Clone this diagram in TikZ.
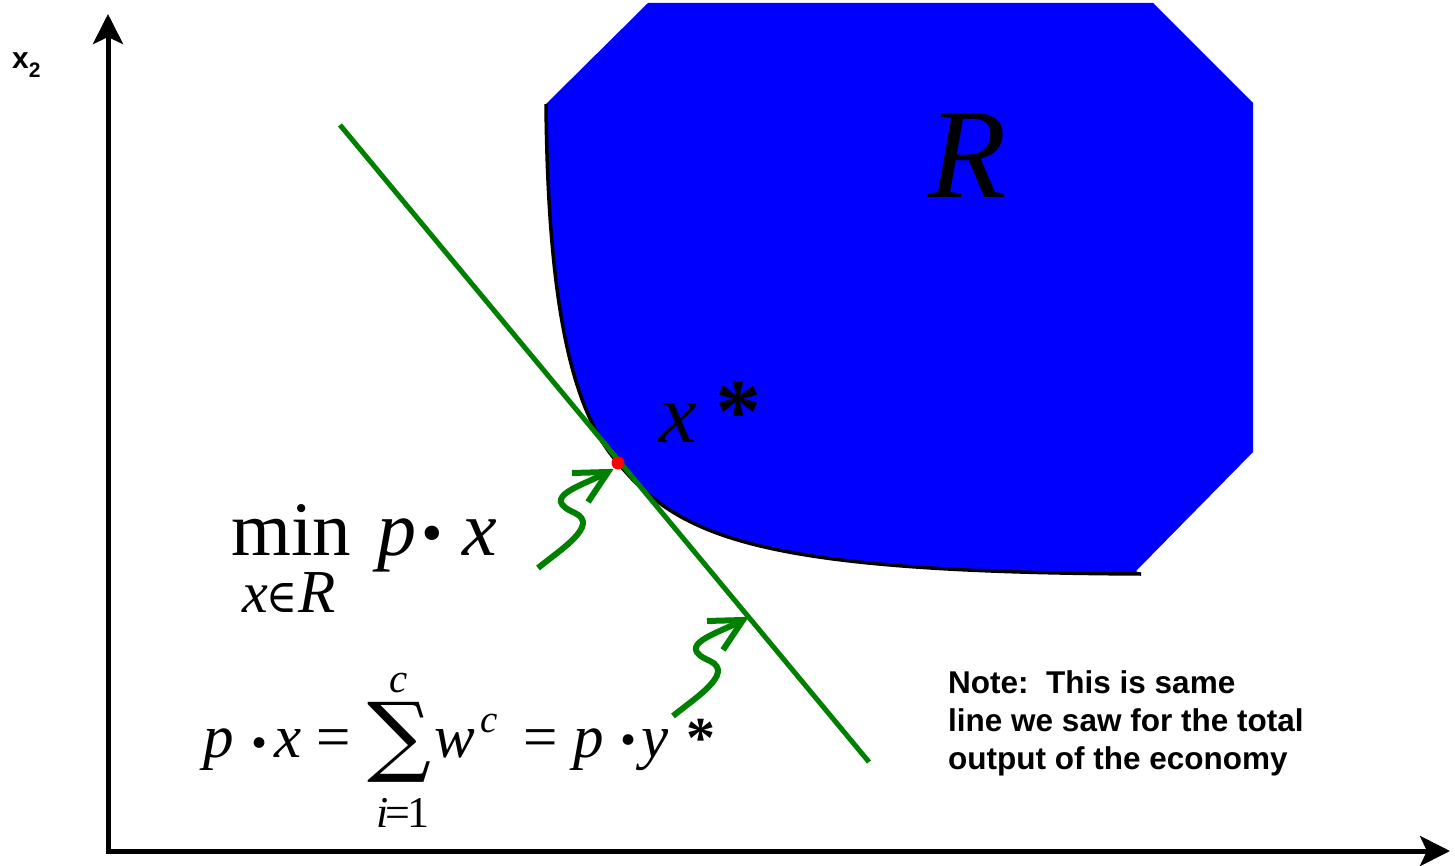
\documentclass[tikz,border=0pt]{standalone}
\usepackage{fontspec}
\setmainfont{Liberation Serif}
\newfontfamily\arialf{Liberation Sans}
\newfontfamily\dejas{DejaVu Serif}
\usetikzlibrary{arrows.meta}
\newcommand{\myfs}[1]{\fontsize{#1}{#1}\selectfont}
\newcommand{\mydot}[1]{\makebox[0pt]{\myfs{#1}\dejas ⋅}}
\definecolor{ggreen}{RGB}{0,128,0}
\definecolor{rblue}{RGB}{0,0,255}
\definecolor{rred}{RGB}{255,0,0}
\tikzset{
  axisline/.style={line width=5pt, -{Stealth[length=30pt,width=30pt,inset=7pt]}},
  tx/.style={inner sep=0pt, anchor=base west},
  tc/.style={inner sep=0pt, anchor=base},
  greenline/.style={draw=ggreen, line width=5pt},
  squigline/.style={draw=ggreen, line width=6pt},
  squig/.pic={
    \draw[squigline] (0,0) .. controls (22,-18) and (62,-43) .. (37,-55)
         .. controls (0,-71) and (44,-82) .. (70,-96);
    \draw[squigline] (34,-95) -- (70,-96) -- (50,-66);
  }
}
\begin{document}
\begin{tikzpicture}[x=1pt,y=-1pt]
\useasboundingbox (0,0) rectangle (1455,866);
% region R
\fill[rblue] (546,104) .. controls (548,310) and (573,412) .. (618,463)
   .. controls (680,538) and (760,572) .. (1141,574)
   -- (1136,571) -- (1253,452) -- (1253,103) -- (1153,3) -- (648,3) -- cycle;
\draw[line width=3.5pt] (546,104) .. controls (548,310) and (573,412) .. (618,463)
   .. controls (680,538) and (760,572) .. (1141,574);
% axes
\coordinate (O) at (108,851);
\coordinate (ytip) at (108,14);
\coordinate (xtip) at (1450,851);
\draw[axisline] (108,853.5) -- (ytip);
\draw[axisline] (O) -- (xtip);
% budget line
\coordinate (g1) at (340,125);
\coordinate (g2) at (869,762);
\draw[greenline] (g1) -- (g2);
\node[circle, fill=rred, inner sep=0pt, minimum size=13pt] (xstar) at (618,463) {};
% squiggly arrows
\pic at (538,568) {squig};
\pic at (673,716) {squig};
% labels
\node[tx] (x2) at (12,69) {\arialf\bfseries\myfs{30}x\raisebox{-9pt}{\myfs{21}2}};
\node[tx] (R) at (928,198) {\myfs{128}\itshape R};
\node[tx] (xs) at (659,442) {\myfs{85}\itshape x};
\node[tx] (xast) at (715,442) {\myfs{92}\bfseries *};
% min p.x
\node[tx] (min) at (231,555) {\myfs{77}min};
\node[tx] (mp) at (377,555) {\myfs{78}\itshape p};
\node[tc] (mdot) at (432,571) {\mydot{110}};
\node[tx] (mx) at (462,555) {\myfs{78}\itshape x};
\node[tx] (sx) at (242,612) {\myfs{58}\itshape x};
\node[inner sep=0pt] (sin) at (282,597.5) {\resizebox*{31pt}{29pt}{\dejas ∈}};
\node[tx] (sR) at (298,612) {\myfs{61}\itshape R};
% equation
\node[tx] (ep) at (203,757) {\myfs{61}\itshape p};
\node[tc] (edot) at (260,771) {\mydot{82}};
\node[tx] (ex) at (274,757) {\myfs{61}\itshape x};
\node[tx] (eeq) at (316,757) {\myfs{61}=};
\node[inner sep=0pt] (esum) at (400,742) {\resizebox*{64pt}{80pt}{\dejas ∑}};
\node[tx] (ec) at (389,692) {\myfs{41}\itshape c};
\node[tx] (ei) at (376,827) {\myfs{44}\itshape i\kern-3pt\upshape=\kern-3pt1};
\node[tx] (ew) at (434,757) {\myfs{61}\itshape w};
\node[tx] (ewc) at (480,732) {\myfs{39}\itshape c};
\node[tx] (eeq2) at (523,757) {\myfs{61}=};
\node[tx] (ep2) at (573,757) {\myfs{61}\itshape p};
\node[tc] (edot2) at (629,768) {\mydot{82}};
\node[tx] (ey) at (641,757) {\myfs{61}\itshape y};
\node[tx] (east) at (686,757) {\myfs{58}\bfseries *};
% note
\node[tx] (n1) at (948,693) {\arialf\bfseries\myfs{31.5}Note:\ \ This is same};
\node[tx] (n2) at (948,731) {\arialf\bfseries\myfs{31.5}line we saw for the total};
\node[tx] (n3) at (948,769) {\arialf\bfseries\myfs{31.5}output of the economy};
\end{tikzpicture}
\end{document}
